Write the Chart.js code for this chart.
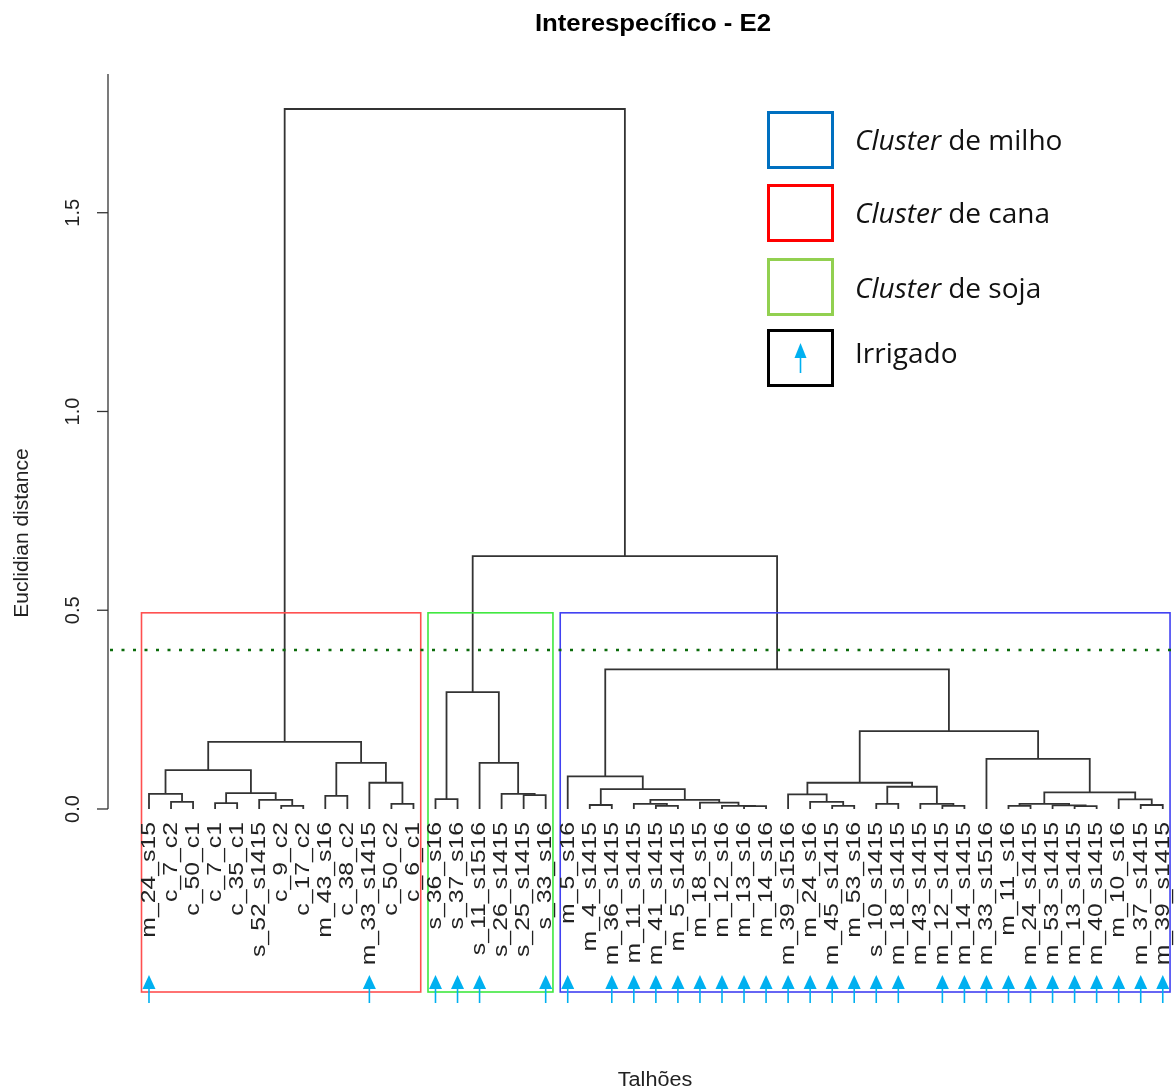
<!DOCTYPE html>
<html>
<head>
<meta charset="utf-8">
<script src="https://cdn.jsdelivr.net/npm/chart.js@4.4.1/dist/chart.umd.min.js"></script>
<style>
  body { margin: 0; background: #fff; }
  #wrap { position: relative; width: 1174px; height: 1090px; overflow: hidden; }
  .box { position: absolute; left: 767px; width: 67px; height: 58px; box-sizing: border-box; border: 3px solid #000; }
  .txt { position: absolute; left: 855px; height: 40px; line-height: 40px; font-family: "Open Sans", sans-serif; font-size: 28px; color: #111; white-space: nowrap; }
  .txt i { font-style: italic; }
</style>
</head>
<body>
<div id="wrap">
  <canvas id="dendro"></canvas>

  <div class="box" style="top:111px;border-color:#0070c0"></div>
  <div class="txt" style="top:119px"><i>Cluster</i> de milho</div>
  <div class="box" style="top:184px;border-color:#ff0000"></div>
  <div class="txt" style="top:192px"><i>Cluster</i> de cana</div>
  <div class="box" style="top:258px;border-color:#92d050"></div>
  <div class="txt" style="top:267px"><i>Cluster</i> de soja</div>
  <div class="box" style="top:329px;border-color:#000">
    <svg width="61" height="52" style="position:absolute;left:0;top:0">
      <polygon points="30.5,11 24.5,26 36.5,26" fill="#00b0f0"/>
      <line x1="30.5" y1="25" x2="30.5" y2="41" stroke="#00b0f0" stroke-width="1.6"/>
    </svg>
  </div>
  <div class="txt" style="top:332px">Irrigado</div>
</div>

<script>
// leaves in plotted order (left to right)
const leafLabels = [
  "m_24_s15", "c_7_c2", "c_50_c1", "c_7_c1", "c_35_c1", "s_52_s1415", "c_9_c2", "c_17_c2",
  "m_43_s16", "c_38_c2", "m_33_s1415", "c_50_c2", "c_6_c1",
  "s_36_s16", "s_37_s16", "s_11_s1516", "s_26_s1415", "s_25_s1415", "s_33_s16",
  "m_5_s16", "m_4_s1415", "m_36_s1415", "m_11_s1415", "m_41_s1415", "m_5_s1415", "m_18_s15",
  "m_12_s16", "m_13_s16", "m_14_s16", "m_39_s1516", "m_24_s16", "m_45_s1415", "m_53_s16",
  "s_10_s1415", "m_18_s1415", "m_43_s1415", "m_12_s1415", "m_14_s1415", "m_33_s1516",
  "m_11_s16", "m_24_s1415", "m_53_s1415", "m_13_s1415", "m_40_s1415", "m_10_s16",
  "m_37_s1415", "m_39_s1415"
];

// 1 = irrigated field (blue arrow under the leaf)
const irrigated = [
  1, 0, 0, 0, 0, 0, 0, 0, 0, 0, 1, 0, 0,
  1, 1, 1, 0, 0, 1,
  1, 0, 1, 1, 1, 1, 1, 1, 1, 1, 1, 1, 1, 1, 1, 1, 0, 1, 1, 1, 1, 1, 1, 1, 1, 1, 1, 1
];

// merge steps like hclust: negative = leaf position, positive = earlier merge step
const mergeLeft  = [-2, -1, -4, -7, -6, 3, 2, -9, -12, -11, 8, 7,
                    -14, -18, -17, -16, 13,
                    -21, -24, -23, -28, -27, -26, 20, 18, -20,
                    -32, -31, -30, -34, -37, -36, 30, 29,
                    -40, -43, -42, 35, -46, -45, 38, -39, 34, 26,
                    17, 12];
const mergeRight = [-3, 1, -5, -8, 4, 5, 6, -10, -13, 9, 10, 11,
                    -15, -19, 14, 15, 16,
                    -22, -25, 19, -29, 21, 22, 23, 24, 25,
                    -33, 27, 28, -35, -38, 31, 32, 33,
                    -41, -44, 36, 37, -47, 39, 40, 41, 42, 43,
                    44, 45];
const mergeHeight = [0.018, 0.038, 0.015, 0.008, 0.023, 0.040, 0.098, 0.033, 0.013, 0.066, 0.116, 0.169,
                     0.025, 0.035, 0.038, 0.116, 0.294,
                     0.010, 0.008, 0.013, 0.007, 0.008, 0.016, 0.023, 0.050, 0.082,
                     0.008, 0.018, 0.037, 0.013, 0.008, 0.013, 0.056, 0.066,
                     0.008, 0.007, 0.009, 0.013, 0.010, 0.024, 0.042, 0.126, 0.196, 0.351,
                     0.636, 1.761];

const clusterFirst = [1, 14, 20];
const clusterLast = [13, 19, 47];
const clusterColors = ["#ff4f4f", "#3fe83f", "#4040f2"];
const cutHeight = 0.4;
const yTicks = [0, 0.5, 1.0, 1.5];

// build the links of the tree
const nodeX = [];
const links = [];
function pos(ref) {
  return ref < 0 ? { x: -ref, y: 0 } : { x: nodeX[ref - 1], y: mergeHeight[ref - 1] };
}
mergeLeft.forEach((l, i) => {
  const a = pos(l), b = pos(mergeRight[i]), h = mergeHeight[i];
  nodeX.push((a.x + b.x) / 2);
  links.push([{ x: a.x, y: a.y }, { x: a.x, y: h }, { x: b.x, y: h }, { x: b.x, y: b.y }]);
});

const datasets = links.map(pts => ({
  data: pts,
  showLine: true,
  borderColor: "#333",
  borderWidth: 1.8,
  pointRadius: 0,
  tension: 0,
  fill: false
}));

// rectangle top: halfway between the two highest cuts for 3 groups
const sortedH = [...mergeHeight].sort((a, b) => b - a);
const rectTop = (sortedH[1] + sortedH[2]) / 2;

const FONT = "'Liberation Sans', Arial, sans-serif";

const decor = {
  id: "decor",
  afterDraw(chart) {
    const ctx = chart.ctx;
    const xs = chart.scales.x, ys = chart.scales.y;
    const area = chart.chartArea;
    ctx.save();

    // cluster rectangles
    clusterFirst.forEach((f, i) => {
      const x0 = xs.getPixelForValue(f - 0.34);
      const x1 = xs.getPixelForValue(clusterLast[i] + 0.33);
      const y0 = ys.getPixelForValue(rectTop);
      const y1 = ys.getPixelForValue(ys.min);
      ctx.strokeStyle = clusterColors[i];
      ctx.lineWidth = 1.6;
      ctx.strokeRect(x0, y0, x1 - x0, y1 - y0);
    });

    // cut line
    const yc = ys.getPixelForValue(cutHeight);
    ctx.strokeStyle = "#0b6b0b";
    ctx.lineWidth = 2.4;
    ctx.setLineDash([3, 8.5]);
    ctx.beginPath();
    ctx.moveTo(area.left + 2, yc);
    ctx.lineTo(area.right, yc);
    ctx.stroke();
    ctx.setLineDash([]);

    // y axis
    const yZero = ys.getPixelForValue(0);
    ctx.strokeStyle = "#333";
    ctx.lineWidth = 1.3;
    ctx.beginPath();
    ctx.moveTo(area.left, area.top);
    ctx.lineTo(area.left, yZero);
    ctx.stroke();
    ctx.fillStyle = "#222";
    ctx.font = "20px " + FONT;
    ctx.textAlign = "center";
    ctx.textBaseline = "middle";
    yTicks.forEach(t => {
      const y = ys.getPixelForValue(t);
      ctx.beginPath();
      ctx.moveTo(area.left - 11, y);
      ctx.lineTo(area.left, y);
      ctx.stroke();
      ctx.save();
      ctx.translate(73, y);
      ctx.rotate(-Math.PI / 2);
      ctx.fillText(t.toFixed(1), 0, 0);
      ctx.restore();
    });

    // axis titles and main title
    ctx.save();
    ctx.translate(22, 533);
    ctx.rotate(-Math.PI / 2);
    ctx.font = "21px " + FONT;
    ctx.fillText("Euclidian distance", 0, 0);
    ctx.restore();
    ctx.save();
    ctx.translate(655, 1080);
    ctx.scale(1.08, 1);
    ctx.font = "20px " + FONT;
    ctx.fillText("Talhões", 0, 0);
    ctx.restore();
    ctx.save();
    ctx.translate(653, 25);
    ctx.scale(1.12, 1);
    ctx.font = "bold 23px " + FONT;
    ctx.fillStyle = "#000";
    ctx.fillText("Interespecífico - E2", 0, 0);
    ctx.restore();

    // leaf labels
    ctx.fillStyle = "#222";
    ctx.font = "21px " + FONT;
    ctx.textAlign = "right";
    leafLabels.forEach((lab, i) => {
      const x = xs.getPixelForValue(i + 1);
      ctx.save();
      ctx.translate(x, yZero + 13);
      ctx.rotate(-Math.PI / 2);
      ctx.scale(1.18, 1);
      ctx.fillText(lab, 0, 0);
      ctx.restore();
    });

    // irrigation arrows
    const yb = ys.getPixelForValue(ys.min);
    ctx.fillStyle = "#00b0f0";
    ctx.strokeStyle = "#00b0f0";
    ctx.lineWidth = 1.6;
    irrigated.forEach((v, i) => {
      if (!v) return;
      const x = xs.getPixelForValue(i + 1);
      ctx.beginPath();
      ctx.moveTo(x, yb - 17);
      ctx.lineTo(x - 6.5, yb - 3);
      ctx.lineTo(x + 6.5, yb - 3);
      ctx.closePath();
      ctx.fill();
      ctx.beginPath();
      ctx.moveTo(x, yb - 4);
      ctx.lineTo(x, yb + 11);
      ctx.stroke();
    });
    ctx.restore();
  }
};

new Chart(document.getElementById("dendro"), {
  type: "scatter",
  data: { datasets },
  options: {
    responsive: true,
    maintainAspectRatio: false,
    animation: false,
    layout: { padding: { left: 108, right: 0, top: 74, bottom: 98 } },
    plugins: { legend: { display: false }, tooltip: { enabled: false }, title: { display: false } },
    scales: {
      x: { type: "linear", min: -0.86, max: 47.51, display: false },
      y: { type: "linear", min: -0.4604, max: 1.849, display: false }
    }
  },
  plugins: [decor]
});
</script>
</body>
</html>
